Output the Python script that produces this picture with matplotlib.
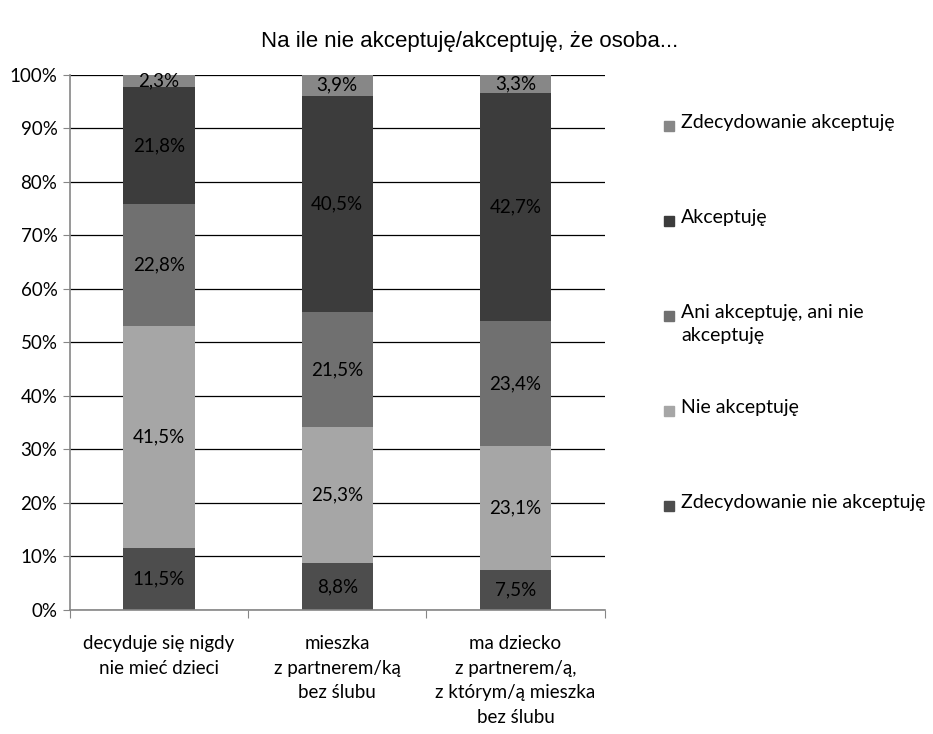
import matplotlib.pyplot as plt
from matplotlib.patches import Rectangle
import numpy as np

plt.rcParams['font.family'] = ['Lato', 'DejaVu Sans']

categories = ['decyduje się nigdy\nnie mieć dzieci',
              'mieszka\nz partnerem/ką\nbez ślubu',
              'ma dziecko\nz partnerem/ą,\nz którym/ą mieszka\nbez ślubu']
series_names = ['Zdecydowanie nie akceptuję', 'Nie akceptuję',
                'Ani akceptuję, ani nie\nakceptuję', 'Akceptuję',
                'Zdecydowanie akceptuję']
zdec_nie = [11.5, 8.8, 7.5]
nie_akc = [41.5, 25.3, 23.1]
ani = [22.8, 21.5, 23.4]
akc = [21.8, 40.5, 42.7]
zdec_akc = [2.3, 3.9, 3.3]
colors = ['#4d4d4d', '#a6a6a6', '#707070', '#3c3c3c', '#878787']

values = np.array([zdec_nie, nie_akc, ani, akc, zdec_akc])
shares = values / values.sum(axis=0)

fig = plt.figure(figsize=(9.33, 7.34), dpi=100)
ax = fig.add_axes([0.075, 0.169, 0.573, 0.729])

x = np.arange(len(categories))
bottom = np.zeros(len(categories))
for i in range(len(series_names)):
    ax.bar(x, shares[i], 0.4, bottom=bottom, color=colors[i], zorder=2)
    for j in range(len(categories)):
        ax.text(x[j], bottom[j] + shares[i][j] / 2,
                ('%.1f%%' % values[i][j]).replace('.', ','),
                ha='center', va='center', fontsize=13.5, color='black', zorder=3)
    bottom += shares[i]

ax.set_xlim(-0.5, len(categories) - 0.5)
ax.set_ylim(0, 1)
ax.set_yticks(np.linspace(0, 1, 11))
ax.set_yticklabels(['%d%%' % v for v in range(0, 101, 10)], fontsize=13.5)
ax.yaxis.grid(True, color='black', linewidth=0.9, zorder=0)
ax.set_axisbelow(True)

ax.set_xticks(np.arange(-0.5, len(categories), 1))
ax.set_xticklabels([])
ax.set_xticks(x, minor=True)
ax.set_xticklabels(categories, minor=True, fontsize=13.5, linespacing=1.55, va='top')
ax.tick_params(axis='x', which='minor', length=0, pad=18)
ax.tick_params(axis='x', which='major', length=6, color='#868686', direction='out')
ax.tick_params(axis='y', length=5, color='#868686', direction='out', pad=4)

for s in ['top', 'right']:
    ax.spines[s].set_visible(False)
for s in ['left', 'bottom']:
    ax.spines[s].set_color('#868686')
    ax.spines[s].set_linewidth(1.2)

fig.text(0.503, 0.943, 'Na ile nie akceptuję/akceptuję, że osoba...',
         ha='center', va='center', fontsize=16, family=['Liberation Sans', 'DejaVu Sans'])

# legend, top entry first
W, H = 933, 734
for k, i in enumerate(range(len(series_names) - 1, -1, -1)):
    yc = 126 + k * 95
    fig.patches.append(Rectangle((664 / W, 1 - (yc + 5) / H), 10 / W, 10 / H,
                                 transform=fig.transFigure, color=colors[i]))
    fig.text(681 / W, 1 - (yc - 12) / H, series_names[i], ha='left', va='top',
             fontsize=14, linespacing=1.45)

fig.savefig('out.png', dpi=100)
